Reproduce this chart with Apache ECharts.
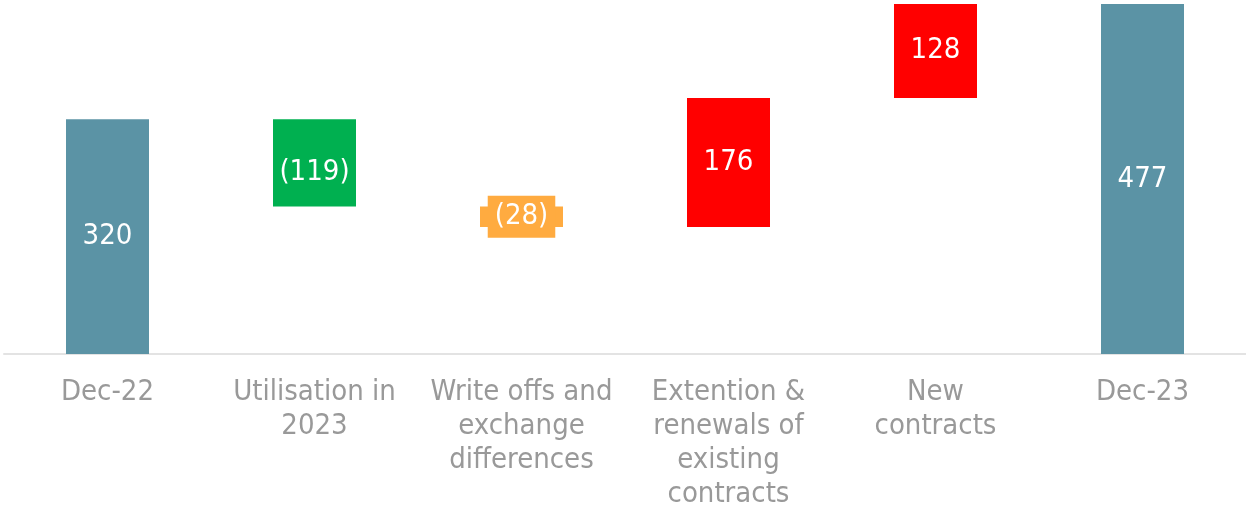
<!DOCTYPE html>
<html>
<head>
<meta charset="utf-8">
<script src="https://cdn.jsdelivr.net/npm/echarts@6/dist/echarts.min.js"></script>
<style>
  html, body { margin: 0; padding: 0; background: #ffffff; }
  #chart { width: 1246px; height: 511px; }
</style>
</head>
<body>
<div id="chart"></div>
<script>
// Movement of provisions, Dec-22 to Dec-23 (waterfall)
const categories = [
  'Dec-22',
  'Utilisation in\n2023',
  'Write offs and\nexchange\ndifferences',
  'Extention &\nrenewals of\nexisting\ncontracts',
  'New\ncontracts',
  'Dec-23'
];
const values = [320, -119, -28, 176, 128, 477];
const isTotal = [true, false, false, false, false, true];
const barColors = ['#5B93A5', '#00B050', '#FFAB40', '#FF0000', '#FF0000', '#5B93A5'];

// Build the invisible base and the visible step for each bar
const baseData = [];
const stepData = [];
let running = 0;
values.forEach((v, i) => {
  if (isTotal[i]) {
    baseData.push(0);
    stepData.push(v);
    running = v;
  } else {
    const next = running + v;
    baseData.push(Math.min(running, next));
    stepData.push(Math.abs(v));
    running = next;
  }
});

const fmt = v => (v < 0 ? '(' + Math.abs(v) + ')' : String(v));
const FONT = 'DejaVu Sans Condensed';

const stepItems = stepData.map((h, i) => {
  const item = {
    value: h,
    itemStyle: { color: barColors[i] },
    label: { formatter: fmt(values[i]) }
  };
  if (i === 1) item.label.offset = [0, 10];
  if (i === 2) {
    item.label.backgroundColor = barColors[i];
    item.label.padding = [6, 7, 7, 7];
  }
  return item;
});

const chart = echarts.init(document.getElementById('chart'), null, { renderer: 'canvas' });
chart.setOption({
  animation: false,
  backgroundColor: '#ffffff',
  grid: { left: 4, right: 0, top: 4, bottom: 153, containLabel: false },
  xAxis: {
    type: 'category',
    data: categories,
    axisTick: { show: false },
    axisLine: { lineStyle: { color: '#E3E3E3', width: 2 } },
    axisLabel: {
      color: '#999999',
      fontFamily: FONT,
      fontSize: 29,
      lineHeight: 34,
      margin: 21,
      interval: 0,
      align: 'center'
    }
  },
  yAxis: {
    type: 'value',
    min: 0,
    max: 477,
    show: false,
    splitLine: { show: false }
  },
  series: [
    {
      type: 'bar',
      stack: 'wf',
      data: baseData,
      barWidth: 83,
      itemStyle: { color: 'rgba(0,0,0,0)' },
      emphasis: { disabled: true },
      silent: true
    },
    {
      type: 'bar',
      stack: 'wf',
      data: stepItems,
      barWidth: 83,
      label: {
        show: true,
        position: 'inside',
        color: '#ffffff',
        fontFamily: FONT,
        fontSize: 29,
        lineHeight: 29
      }
    }
  ]
});
</script>
</body>
</html>
